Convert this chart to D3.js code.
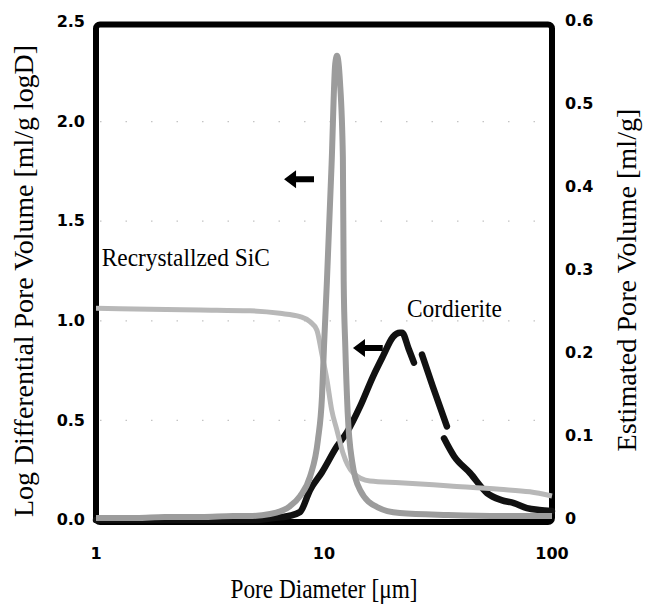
<!DOCTYPE html>
<html>
<head>
<meta charset="utf-8">
<script src="https://cdn.jsdelivr.net/npm/d3@7/dist/d3.min.js"></script>
<style>
  body { margin: 0; background: #fff; }
</style>
</head>
<body>
<div id="chart"></div>
<script>
// pore diameter [um] vs log differential pore volume, recrystallized SiC (left axis)
var sicDiam = [1, 1.5, 2, 2.9, 4, 4.7, 5.8, 7.1, 7.85, 8.7, 9.4, 9.8, 10.0, 10.3, 10.8, 11.2, 11.4, 11.75, 12.1, 12.2, 12.4, 12.7, 13.3, 14.4, 17.1, 21.5, 35, 60, 100];
var sicDiff = [0.01, 0.01, 0.015, 0.015, 0.02, 0.02, 0.03, 0.07, 0.12, 0.22, 0.40, 0.62, 0.87, 1.20, 1.79, 2.29, 2.33, 2.20, 1.82, 1.20, 0.87, 0.54, 0.29, 0.15, 0.065, 0.035, 0.025, 0.02, 0.02];

// estimated (cumulative) pore volume, recrystallized SiC (right axis)
var sicCumDiam = [1, 1.73, 2.86, 4.74, 6.4, 7.85, 8.68, 9.3, 9.8, 10.3, 10.8, 11.4, 12.1, 13.4, 15.9, 21.5, 35.7, 59, 80, 100];
var sicCum = [0.255, 0.254, 0.253, 0.252, 0.249, 0.245, 0.239, 0.229, 0.199, 0.169, 0.133, 0.108, 0.081, 0.057, 0.047, 0.045, 0.041, 0.037, 0.034, 0.029];

// log differential pore volume, cordierite (left axis) - null = gap in the trace
var corDiam = [1, 3, 5, 6, 7, 7.85, 8.68, 9.8, 11.4, 12.6, 14.4, 16.4, 18.1, 20.1, 21.5, 22.0, 23.5, 24.8, null, 26.9, 30, 34.6, null, 33.6, 37.2, 43.7, 51.9, 60, 68.1, 77.6, 88, 100];
var corDiff = [0, 0, 0, 0.01, 0.02, 0.04, 0.15, 0.24, 0.37, 0.44, 0.57, 0.72, 0.82, 0.92, 0.94, 0.94, 0.86, 0.79, null, 0.83, 0.67, 0.47, null, 0.41, 0.32, 0.236, 0.135, 0.10, 0.085, 0.06, 0.05, 0.045];

// ticks
var xTicks = [1, 10, 100];
var leftTicks = [0, 0.5, 1, 1.5, 2, 2.5];
var leftTickLabels = ["0.0", "0.5", "1.0", "1.5", "2.0", "2.5"];
var rightTicks = [0, 0.1, 0.2, 0.3, 0.4, 0.5, 0.6];
var rightTickLabels = ["0", "0.1", "0.2", "0.3", "0.4", "0.5", "0.6"];
var gridTicks = [0.5, 1, 1.5, 2];

// set the dimensions and margins of the graph
var margin = {top: 24, right: 105, bottom: 94, left: 96},
    width = 657 - margin.left - margin.right,
    height = 616 - margin.top - margin.bottom;

var svg = d3.select("#chart")
  .append("svg")
    .attr("width", 657)
    .attr("height", 616)
  .append("g")
    .attr("transform", "translate(" + margin.left + "," + margin.top + ")");

// scales
var x = d3.scaleLog().domain([1, 100]).range([0, width]);
var yL = d3.scaleLinear().domain([0, 2.5]).range([height - 2, -2]);
var yR = d3.scaleLinear().domain([0, 0.6]).range([height - 2, -2]);

// faint dotted grid
svg.selectAll(".grid")
  .data(gridTicks)
  .enter().append("line")
    .attr("x1", 4).attr("x2", width - 4)
    .attr("y1", function(d) { return yL(d); })
    .attr("y2", function(d) { return yL(d); })
    .style("stroke", "#c4c4c4")
    .style("stroke-width", 1.2)
    .style("stroke-dasharray", "1.5,24");

// plot frame
svg.append("rect")
  .attr("x", 0)
  .attr("y", 0.5)
  .attr("width", width)
  .attr("height", height - 0.5)
  .attr("rx", 4)
  .style("fill", "none")
  .style("stroke", "#000")
  .style("stroke-width", 6);

// line generators
var zip = function(ds, vs) {
  return ds.map(function(d, i) { return {d: d, v: vs[i]}; });
};
var lineL = d3.line()
  .defined(function(p) { return p.d != null && p.v != null; })
  .x(function(p) { return x(p.d); })
  .y(function(p) { return yL(p.v); })
  .curve(d3.curveMonotoneX);
var lineR = d3.line()
  .x(function(p) { return x(p.d); })
  .y(function(p) { return yR(p.v); })
  .curve(d3.curveMonotoneX);

// cordierite
svg.append("path")
  .datum(zip(corDiam, corDiff))
  .attr("d", lineL)
  .style("fill", "none")
  .style("stroke", "#111")
  .style("stroke-width", 6.5)
  .style("stroke-linecap", "round")
  .style("stroke-linejoin", "round");

// SiC cumulative
svg.append("path")
  .datum(zip(sicCumDiam, sicCum))
  .attr("d", lineR)
  .style("fill", "none")
  .style("stroke", "#b8b8b8")
  .style("stroke-width", 5)
  .style("stroke-linejoin", "round");

// SiC differential
svg.append("path")
  .datum(zip(sicDiam, sicDiff))
  .attr("d", lineL)
  .style("fill", "none")
  .style("stroke", "#9c9c9c")
  .style("stroke-width", 6)
  .style("stroke-linejoin", "round");

// arrows pointing to the left axis
var arrows = [
  {tip: 6.68, tail: 9.04, v: 1.71},
  {tip: 13.4, tail: 18.1, v: 0.863}
];
svg.selectAll(".arrow")
  .data(arrows)
  .enter().append("path")
    .attr("d", function(a) {
      var tx = x(a.tip), ty = yL(a.v), len = x(a.tail) - tx;
      return "M" + tx + "," + ty +
        "l12,-9 l0,6 l" + (len - 12) + ",0 l0,6 l" + (12 - len) + ",0 l0,6 z";
    })
    .style("fill", "#000");

// series labels
svg.append("text")
  .attr("x", x(1.06))
  .attr("y", yL(1.275))
  .attr("textLength", 168)
  .attr("lengthAdjust", "spacingAndGlyphs")
  .style("font-family", "'Liberation Serif', serif")
  .style("font-size", "26px")
  .text("Recrystallzed SiC");

svg.append("text")
  .attr("x", x(23.1))
  .attr("y", yL(1.02))
  .attr("textLength", 95)
  .attr("lengthAdjust", "spacingAndGlyphs")
  .style("font-family", "'Liberation Serif', serif")
  .style("font-size", "25px")
  .text("Cordierite");

// tick labels
var tickFont = function(sel) {
  sel.style("font-family", "'DejaVu Sans', Verdana, sans-serif")
    .style("font-weight", "bold")
    .style("font-size", "16px")
    .style("fill", "#000");
};

svg.selectAll(".xlab")
  .data(xTicks)
  .enter().append("text")
    .attr("x", function(d) { return x(d); })
    .attr("y", 535)
    .attr("text-anchor", "middle")
    .text(function(d) { return d; })
    .call(tickFont);

svg.selectAll(".ylab")
  .data(leftTicks)
  .enter().append("text")
    .attr("x", -11)
    .attr("y", function(d) { return yL(d); })
    .attr("dy", "0.33em")
    .attr("text-anchor", "end")
    .text(function(d, i) { return leftTickLabels[i]; })
    .call(tickFont);

svg.selectAll(".y2lab")
  .data(rightTicks)
  .enter().append("text")
    .attr("x", width + 13)
    .attr("y", function(d) { return yR(d); })
    .attr("dy", "0.28em")
    .attr("text-anchor", "start")
    .text(function(d, i) { return rightTickLabels[i]; })
    .call(tickFont);

// axis titles
var titleFont = function(sel) {
  sel.style("font-family", "'Liberation Serif', 'Times New Roman', serif")
    .style("font-size", "27px")
    .style("fill", "#000")
    .attr("lengthAdjust", "spacingAndGlyphs");
};

svg.append("text")
  .attr("x", x(10))
  .attr("y", 574)
  .attr("text-anchor", "middle")
  .attr("textLength", 187)
  .text("Pore Diameter [\u03bcm]")
  .call(titleFont);

svg.append("text")
  .attr("transform", "translate(" + (33 - margin.left) + "," + (281 - margin.top) + ") rotate(-90)")
  .attr("text-anchor", "middle")
  .attr("textLength", 472)
  .text("Log Differential Pore Volume [ml/g logD]")
  .call(titleFont);

svg.append("text")
  .attr("transform", "translate(" + (636 - margin.left) + "," + (280 - margin.top) + ") rotate(-90)")
  .attr("text-anchor", "middle")
  .attr("textLength", 343)
  .text("Estimated Pore Volume [ml/g]")
  .call(titleFont);
</script>
</body>
</html>
